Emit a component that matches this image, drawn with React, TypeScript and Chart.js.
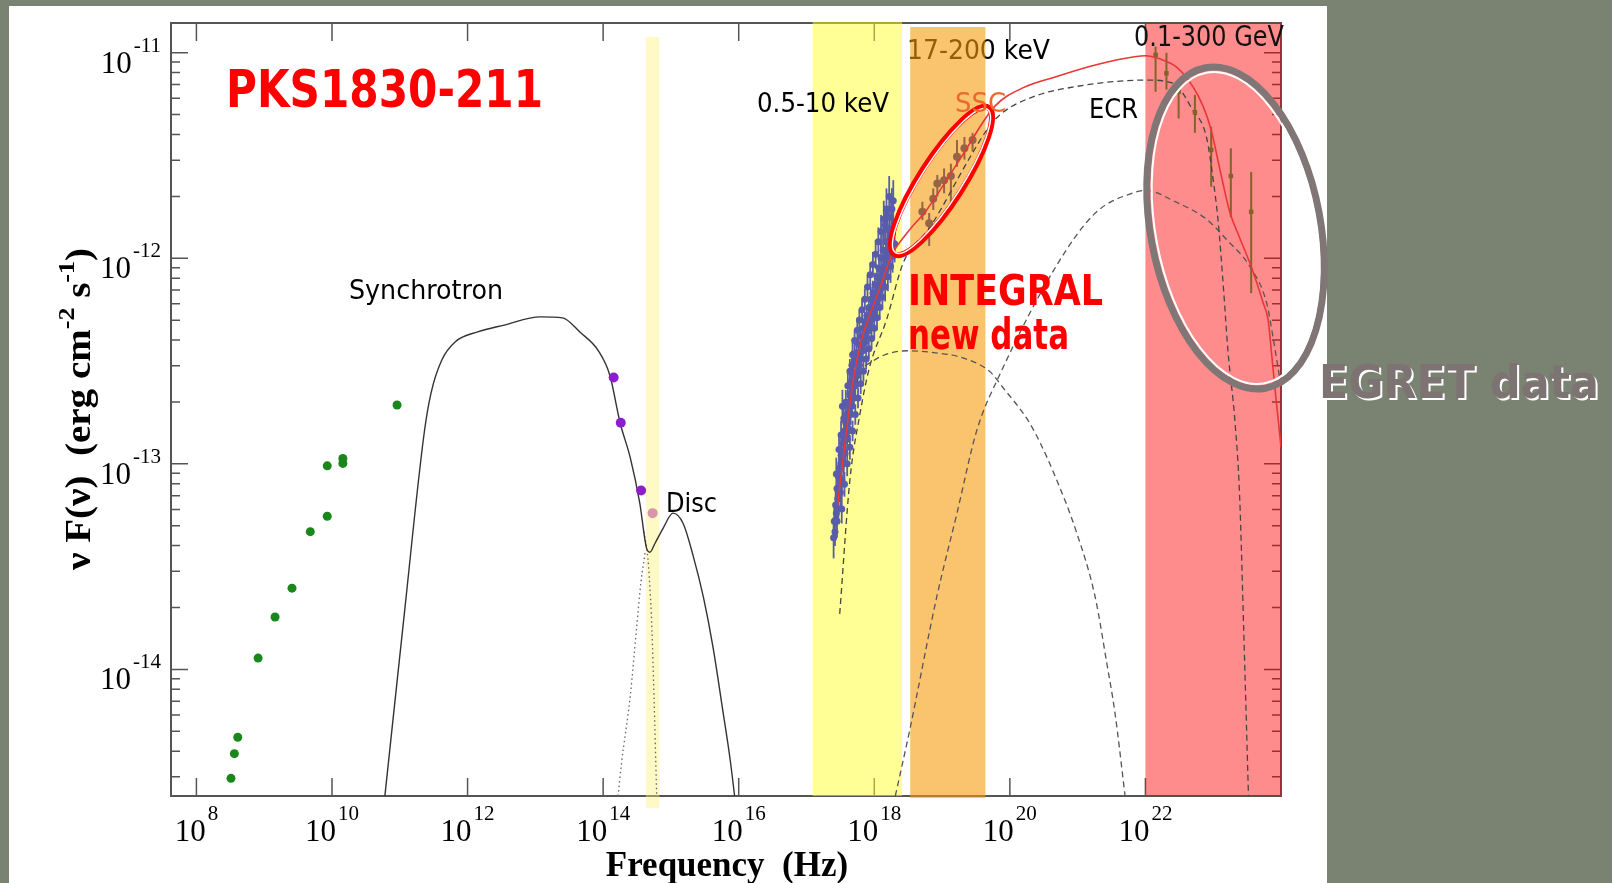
import React, { useEffect, useRef } from "react";
import { Chart, registerables } from "chart.js";

Chart.register(...registerables);

// ---------------- DATA (log10 frequency [Hz], log10 nuF(nu) [erg cm^-2 s^-1]) ----------------
const radioLogNu = [8.51, 8.56, 8.61, 8.91, 9.16, 9.41, 9.68, 9.93, 9.93, 10.16, 10.16, 10.96];
const radioLogF = [-14.53, -14.41, -14.33, -13.945, -13.745, -13.605, -13.33, -13.255, -13.01, -12.998, -12.974, -12.714];

const irLogNu = [14.155, 14.26, 14.56];
const irLogF = [-12.58, -12.8, -13.13];

const optLogNu = [14.73];
const optLogF = [-13.24];

const xrayLogNu = [
  17.4, 17.41, 17.42, 17.43, 17.44, 17.45, 17.46, 17.47, 17.48, 17.49,
  17.5, 17.51, 17.52, 17.53, 17.54, 17.55, 17.56, 17.57, 17.58, 17.59,
  17.6, 17.61, 17.62, 17.63, 17.64, 17.65, 17.66, 17.67, 17.68, 17.69, 17.7,
  17.72, 17.73, 17.74, 17.76, 17.77, 17.79, 17.8, 17.82, 17.83, 17.85,
  17.86, 17.88, 17.89, 17.91, 17.92, 17.94, 17.95, 17.97, 17.98,
  18.0, 18.01, 18.03, 18.04, 18.06, 18.07, 18.09, 18.1, 18.12, 18.13,
  18.15, 18.16, 18.17, 18.19, 18.2, 18.21, 18.23, 18.24, 18.26, 18.27, 18.28,
  17.45, 17.47, 17.5, 17.52, 17.55, 17.57, 17.6, 17.62, 17.65, 17.67,
  17.7, 17.72, 17.75, 17.78, 17.8, 17.83, 17.86, 17.88, 17.91, 17.94,
  17.97, 18.0, 18.03, 18.06, 18.09, 18.12, 18.15, 18.18, 18.21, 18.24,
  17.44, 17.48, 17.51, 17.55, 17.58, 17.61, 17.64, 17.68, 17.71, 17.75,
  17.78, 17.82, 17.86, 17.9, 17.94, 17.98, 18.02, 18.06, 18.1, 18.14, 18.18, 18.22,
  17.52, 17.56, 17.6, 17.64, 17.68, 17.72, 17.76, 17.8, 17.84, 17.88,
  17.92, 17.96, 18.0, 18.04, 18.08, 18.12, 18.16, 18.2, 18.24, 18.27, 18.3,
];
const xrayLogF = [
  -13.36, -13.28, -13.33, -13.2, -13.24, -13.12, -13.17, -13.06, -13.12, -13.02,
  -13.07, -12.96, -12.99, -12.72, -12.9, -12.94, -12.84, -12.88, -12.8, -12.85,
  -12.76, -12.8, -12.7, -12.75, -12.66, -12.71, -12.6, -12.52, -12.64, -12.56, -12.61,
  -12.5, -12.56, -12.46, -12.5, -12.42, -12.46, -12.38, -12.43, -12.34, -12.39,
  -12.31, -12.36, -12.28, -12.33, -12.24, -12.3, -12.2, -12.26, -12.17,
  -12.23, -12.13, -12.2, -12.09, -12.16, -12.05, -12.12, -12.0, -12.09, -11.96,
  -12.04, -11.84, -11.92, -12.01, -11.86, -11.95, -11.8, -11.92, -11.76, -11.88, -11.72,
  -13.28, -13.22, -13.14, -13.08, -13.0, -12.95, -12.88, -12.83, -12.76, -12.72,
  -12.68, -12.62, -12.57, -12.52, -12.49, -12.45, -12.41, -12.38, -12.35, -12.32,
  -12.29, -12.26, -12.22, -12.19, -12.15, -12.11, -12.07, -12.03, -11.99, -11.96,
  -13.05, -12.93, -12.86, -12.78, -12.7, -12.62, -12.55, -12.47, -12.4, -12.35,
  -12.3, -12.25, -12.2, -12.14, -12.08, -12.03, -11.98, -11.92, -11.87, -11.81, -11.76, -11.7,
  -13.22, -13.1, -13.0, -12.92, -12.84, -12.76, -12.68, -12.61, -12.55, -12.49,
  -12.44, -12.39, -12.34, -12.29, -12.24, -12.19, -12.14, -12.09, -12.04, -11.99, -11.93,
];
const xrayErr = [
  0.1, 0.08, 0.07, 0.09, 0.07, 0.08, 0.06, 0.07, 0.06, 0.06,
  0.05, 0.06, 0.05, 0.08, 0.06, 0.05, 0.06, 0.05, 0.05, 0.05,
  0.06, 0.05, 0.05, 0.05, 0.06, 0.05, 0.06, 0.07, 0.05, 0.05, 0.05,
  0.05, 0.05, 0.05, 0.05, 0.05, 0.05, 0.05, 0.05, 0.05, 0.05,
  0.05, 0.05, 0.05, 0.05, 0.05, 0.05, 0.06, 0.05, 0.06,
  0.05, 0.06, 0.05, 0.06, 0.06, 0.07, 0.06, 0.07, 0.06, 0.08,
  0.07, 0.09, 0.08, 0.07, 0.09, 0.08, 0.1, 0.08, 0.1, 0.09, 0.1,
  0.08, 0.07, 0.07, 0.06, 0.06, 0.06, 0.06, 0.05, 0.05, 0.05,
  0.05, 0.05, 0.05, 0.05, 0.05, 0.05, 0.05, 0.05, 0.05, 0.05,
  0.05, 0.05, 0.06, 0.06, 0.06, 0.07, 0.07, 0.07, 0.08, 0.08,
  0.08, 0.07, 0.07, 0.06, 0.06, 0.06, 0.06, 0.06, 0.05, 0.05,
  0.05, 0.05, 0.05, 0.06, 0.06, 0.06, 0.07, 0.07, 0.08, 0.09, 0.1, 0.1,
  0.07, 0.06, 0.06, 0.06, 0.05, 0.05, 0.05, 0.05, 0.05, 0.05,
  0.05, 0.05, 0.05, 0.06, 0.06, 0.06, 0.07, 0.07, 0.08, 0.08, 0.09,
];
const xrayNuErr = 0.035;

const integralLogNu = [18.71, 18.81, 18.87, 18.93, 19.03, 19.13, 19.22, 19.33, 19.45];
const integralLogF = [-11.774, -11.83, -11.71, -11.636, -11.62, -11.6, -11.506, -11.465, -11.425];
const integralLo = [-11.814, -11.94, -11.765, -11.7, -11.684, -11.733, -11.555, -11.52, -11.48];
const integralHi = [-11.725, -11.78, -11.66, -11.595, -11.563, -11.54, -11.425, -11.41, -11.39];

const egretLogNu = [22.15, 22.31, 22.49, 22.73, 22.97, 23.26, 23.56];
const egretLogF = [-11.011, -11.1, -11.19, -11.29, -11.473, -11.6, -11.774];
const egretLo = [-11.19, -11.18, -11.32, -11.39, -11.652, -11.8, -12.17];
const egretHi = [-10.97, -11.0, -11.157, -11.206, -11.36, -11.465, -11.58];

// model curves
const syncLogNu = [10.78, 11.07, 11.36, 11.46, 11.62, 11.82, 12.15, 12.54, 13.07, 13.4, 13.66, 13.93, 14.1, 14.25, 14.4, 14.54, 14.64, 14.69, 14.76, 14.89, 15.03, 15.18, 15.33, 15.48, 15.62, 15.77, 15.87, 15.94];
const syncLogF = [-14.616, -13.72, -12.85, -12.657, -12.495, -12.406, -12.358, -12.325, -12.285, -12.29, -12.36, -12.45, -12.57, -12.8, -12.97, -13.19, -13.41, -13.43, -13.39, -13.31, -13.24, -13.29, -13.45, -13.65, -13.89, -14.21, -14.43, -14.616];

const discDotLogNu = [14.22, 14.27, 14.4, 14.49, 14.56, 14.62];
const discDotLogF = [-14.616, -14.46, -14.13, -13.81, -13.57, -13.43];
const syncDotLogNu = [14.6, 14.66, 14.7, 14.72, 14.75, 14.79];
const syncDotLogF = [-13.33, -13.46, -13.66, -13.81, -14.13, -14.616];

const sscLogNu = [17.62, 17.79, 17.98, 18.25, 18.52, 18.9, 19.26, 19.7, 19.9, 20.27, 20.45, 20.68, 20.97, 21.26, 21.43, 21.55, 21.7];
const sscLogF = [-12.75, -12.56, -12.5, -12.46, -12.45, -12.46, -12.48, -12.55, -12.63, -12.79, -12.9, -13.07, -13.32, -13.65, -13.97, -14.21, -14.616];

const ecrLogNu = [17.49, 17.64, 17.79, 17.93, 18.18, 18.43, 18.82, 19.41, 19.66, 19.86, 20.38, 20.97, 21.55, 22.02, 22.41, 22.7, 22.9, 23.0, 23.07, 23.15, 23.22, 23.32, 23.39, 23.45, 23.52];
const ecrLogF = [-13.73, -13.08, -12.755, -12.53, -12.3, -12.02, -11.85, -11.51, -11.376, -11.3, -11.21, -11.165, -11.14, -11.133, -11.149, -11.28, -11.41, -11.62, -11.81, -12.14, -12.46, -12.79, -13.16, -13.81, -14.616];

const ecdLogNu = [18.31, 18.52, 18.92, 19.22, 19.51, 19.86, 20.68, 21.26, 21.84, 22.02, 22.41, 22.9, 23.2, 23.54, 23.79, 23.88, 23.96, 24.0];
const ecdLogF = [-14.616, -14.3, -13.65, -13.24, -12.84, -12.56, -12.04, -11.78, -11.68, -11.67, -11.72, -11.81, -11.91, -12.04, -12.22, -12.38, -12.54, -12.62];

const totalLogNu = [17.46, 17.49, 17.59, 17.69, 17.81, 17.94, 18.11, 18.25, 18.5, 18.77, 19.26, 19.78, 20.2, 20.68, 21.26, 21.84, 22.0, 22.21, 22.46, 22.7, 22.85, 22.97, 23.1, 23.24, 23.39, 23.56, 23.74, 23.81, 23.86, 23.91, 23.96, 24.0];
const totalLogF = [-13.2, -13.11, -12.84, -12.59, -12.4, -12.27, -12.12, -11.99, -11.87, -11.766, -11.52, -11.26, -11.17, -11.117, -11.06, -11.02, -11.015, -11.03, -11.07, -11.165, -11.26, -11.376, -11.57, -11.77, -11.9, -12.04, -12.22, -12.3, -12.46, -12.63, -12.79, -12.92];

// energy bands (log10 Hz)
const bandNames = ["0.5-10 keV", "17-200 keV", "0.1-300 GeV", "optical"];
const bandLoNu = [17.09, 18.53, 22.0, 14.63];
const bandHiNu = [18.41, 19.64, 24.0, 14.83];

// axes
const xRangeLog = [7.625, 24.0];
const yRangeLog = [-14.616, -10.8555];
const xTickExps = [8, 10, 12, 14, 16, 18, 20, 22];
const yTickExps = [-14, -13, -12, -11];

// ---------------- STYLE ----------------
const BG = "rgb(122,130,114)";
const SERIF = "'Liberation Serif','Times New Roman',Times,serif";
const COMIC = "'Comic Sans MS','DejaVu Sans',sans-serif";
const PANEL = { x: 9, y: 6, w: 1318, h: 900 };
const bandStyles = [
  { color: "rgba(255,255,45,0.5)", top: -1, bottom: 0, layer: 0 },
  { color: "rgba(247,155,13,0.6)", top: 4, bottom: 2, layer: 1 },
  { color: "rgba(255,0,0,0.45)", top: 0, bottom: 0, layer: 1 },
  { color: "rgba(255,240,110,0.4)", top: 14, bottom: 12, layer: 0 },
];

const underNotes = [
  { t: "17-200 keV", x: 907, y: 59, w: 143, font: `27px ${COMIC}`, c: "#000" },
];
const overNotes = [
  { t: "0.1-300 GeV", x: 1134, y: 46, w: 150, font: `28px ${COMIC}`, c: "#111" },
  { t: "PKS1830-211", x: 226, y: 107, w: 317, font: `bold 52px ${COMIC}`, c: "#ff0000" },
  { t: "Synchrotron", x: 349, y: 299, w: 154, font: `26px ${COMIC}`, c: "#000" },
  { t: "Disc", x: 666, y: 512, w: 51, font: `26px ${COMIC}`, c: "#000" },
  { t: "0.5-10 keV", x: 757, y: 112, w: 132, font: `27px ${COMIC}`, c: "#000" },
  { t: "SSC", x: 955, y: 112, w: 51, font: `27px ${COMIC}`, c: "rgb(235,105,45)" },
  { t: "ECR", x: 1089, y: 118, w: 49, font: `27px ${COMIC}`, c: "#000" },
  { t: "INTEGRAL", x: 908, y: 305, w: 195, font: `bold 42px ${COMIC}`, c: "#ff0000" },
  { t: "new data", x: 908, y: 349, w: 161, font: `bold 42px ${COMIC}`, c: "#ff0000" },
];

const p10 = (v: number) => Math.pow(10, v);
const toPts = (xs: number[], ys: number[]) => xs.map((v, i) => ({ x: p10(v), y: p10(ys[i]) }));

function fitText(ctx: CanvasRenderingContext2D, s: string, x: number, y: number, font: string, color: string, width: number) {
  ctx.save();
  ctx.font = font;
  ctx.fillStyle = color;
  ctx.textAlign = "left";
  ctx.textBaseline = "alphabetic";
  const w = ctx.measureText(s).width;
  ctx.translate(x, y);
  ctx.scale(width / w, 1);
  ctx.fillText(s, 0, 0);
  ctx.restore();
}

function drawPow(ctx: CanvasRenderingContext2D, exp: string, x: number, y: number, align: "center" | "right") {
  const bf = `31px ${SERIF}`;
  const ef = `21px ${SERIF}`;
  ctx.font = bf;
  const bw = ctx.measureText("10").width;
  ctx.font = ef;
  const ew = ctx.measureText(exp).width;
  const gap = 2;
  const total = bw + gap + ew;
  const x0 = align === "center" ? x - total / 2 : x - total;
  ctx.textAlign = "left";
  ctx.textBaseline = "alphabetic";
  ctx.fillStyle = "#000";
  ctx.font = bf;
  ctx.fillText("10", x0, y);
  ctx.font = ef;
  ctx.fillText(exp, x0 + bw + gap, y - 21);
}

function vbars(ctx: CanvasRenderingContext2D, chart: any, xs: number[], lo: number[], hi: number[], color: string, width: number) {
  const { x, y } = chart.scales;
  ctx.save();
  ctx.strokeStyle = color;
  ctx.lineWidth = width;
  xs.forEach((v, i) => {
    const px = x.getPixelForValue(p10(v));
    ctx.beginPath();
    ctx.moveTo(px, y.getPixelForValue(p10(lo[i])));
    ctx.lineTo(px, y.getPixelForValue(p10(hi[i])));
    ctx.stroke();
  });
  ctx.restore();
}

function hbars(ctx: CanvasRenderingContext2D, chart: any, xs: number[], ys: number[], dx: number, color: string, width: number) {
  const { x, y } = chart.scales;
  ctx.save();
  ctx.strokeStyle = color;
  ctx.lineWidth = width;
  xs.forEach((v, i) => {
    const py = y.getPixelForValue(p10(ys[i]));
    ctx.beginPath();
    ctx.moveTo(x.getPixelForValue(p10(v - dx)), py);
    ctx.lineTo(x.getPixelForValue(p10(v + dx)), py);
    ctx.stroke();
  });
  ctx.restore();
}

function drawBand(ctx: CanvasRenderingContext2D, chart: any, i: number) {
  const { chartArea: a, scales } = chart;
  const st = bandStyles[i];
  const x1 = scales.x.getPixelForValue(p10(bandLoNu[i]));
  const x2 = scales.x.getPixelForValue(p10(bandHiNu[i]));
  ctx.fillStyle = st.color;
  ctx.fillRect(x1, a.top + st.top, x2 - x1, a.bottom + st.bottom - (a.top + st.top));
}

const decor = {
  id: "decor",
  beforeDraw(chart: any) {
    const ctx = chart.ctx as CanvasRenderingContext2D;
    ctx.save();
    ctx.fillStyle = BG;
    ctx.fillRect(0, 0, chart.width, chart.height);
    ctx.fillStyle = "#ffffff";
    ctx.fillRect(PANEL.x, PANEL.y, PANEL.w, PANEL.h);
    ctx.restore();
  },
  beforeDatasetsDraw(chart: any) {
    const ctx = chart.ctx as CanvasRenderingContext2D;
    const a = chart.chartArea;
    const { x, y } = chart.scales;
    ctx.save();
    // frame
    ctx.strokeStyle = "#555";
    ctx.lineWidth = 2;
    ctx.strokeRect(a.left, a.top, a.right - a.left, a.bottom - a.top);
    ctx.lineWidth = 1.5;
    ctx.beginPath();
    xTickExps.forEach((e) => {
      const px = x.getPixelForValue(p10(e));
      ctx.moveTo(px, a.bottom);
      ctx.lineTo(px, a.bottom - 18);
      ctx.moveTo(px, a.top);
      ctx.lineTo(px, a.top + 18);
    });
    for (let e = -15; e <= -11; e++) {
      for (let k = 1; k <= 9; k++) {
        const v = k * p10(e);
        const lv = Math.log10(v);
        if (lv < yRangeLog[0] || lv > yRangeLog[1]) continue;
        const py = y.getPixelForValue(v);
        const len = k === 1 ? 17 : 9;
        ctx.moveTo(a.left, py);
        ctx.lineTo(a.left + len, py);
        ctx.moveTo(a.right, py);
        ctx.lineTo(a.right - len, py);
      }
    }
    ctx.stroke();
    // bands
    bandNames.forEach((_, i) => {
      if (bandStyles[i].layer === 0) drawBand(ctx, chart, i);
    });
    underNotes.forEach((n) => fitText(ctx, n.t, n.x, n.y, n.font, n.c, n.w));
    bandNames.forEach((_, i) => {
      if (bandStyles[i].layer === 1) drawBand(ctx, chart, i);
    });
    // error bars
    const xc = "rgb(88,92,170)";
    vbars(ctx, chart, xrayLogNu, xrayLogF.map((f, i) => f - xrayErr[i]), xrayLogF.map((f, i) => f + xrayErr[i]), xc, 1.8);
    hbars(ctx, chart, xrayLogNu, xrayLogF, xrayNuErr, xc, 1.8);
    vbars(ctx, chart, integralLogNu, integralLo, integralHi, "rgb(150,100,70)", 2);
    vbars(ctx, chart, egretLogNu, egretLo, egretHi, "rgb(130,100,40)", 2);
    ctx.restore();
  },
  afterDatasetsDraw(chart: any) {
    const ctx = chart.ctx as CanvasRenderingContext2D;
    const a = chart.chartArea;
    const { x, y } = chart.scales;
    ctx.save();
    // INTEGRAL ellipse
    ctx.strokeStyle = "#ff0000";
    ctx.lineWidth = 6;
    ctx.beginPath();
    ctx.ellipse(941.5, 181, 87, 22, -1.0, 0, Math.PI * 2);
    ctx.stroke();
    ctx.strokeStyle = "#ffffff";
    ctx.lineWidth = 1.5;
    ctx.beginPath();
    ctx.ellipse(941.5, 181, 85, 20, -1.0, 0, Math.PI * 2);
    ctx.stroke();
    // EGRET ellipse
    ctx.strokeStyle = "rgb(128,118,118)";
    ctx.lineWidth = 7;
    ctx.beginPath();
    ctx.ellipse(1235.5, 228, 85, 163, -0.185, 0, Math.PI * 2);
    ctx.stroke();
    ctx.strokeStyle = "#ffffff";
    ctx.lineWidth = 2;
    ctx.beginPath();
    ctx.ellipse(1235.5, 228, 80, 158, -0.185, 0, Math.PI * 2);
    ctx.stroke();

    overNotes.forEach((n) => fitText(ctx, n.t, n.x, n.y, n.font, n.c, n.w));
    fitText(ctx, "EGRET data", 1321, 400, `bold 46px ${COMIC}`, "#ffffff", 280);
    fitText(ctx, "EGRET data", 1319, 398, `bold 46px ${COMIC}`, "rgb(125,115,115)", 280);

    // tick labels
    xTickExps.forEach((e) => drawPow(ctx, String(e), x.getPixelForValue(p10(e)), a.bottom + 45, "center"));
    yTickExps.forEach((e) => drawPow(ctx, String(e), a.left - 10, y.getPixelForValue(p10(e)) + 20, "right"));

    // x title
    ctx.fillStyle = "#000";
    ctx.font = `bold 35px ${SERIF}`;
    ctx.textAlign = "center";
    ctx.fillText("Frequency  (Hz)", 727, 876);

    // y title
    const segs: [string, boolean][] = [["\u03BD F(\u03BD)  (erg cm", false], ["-2", true], [" s", false], ["-1", true], [")", false]];
    const big = `bold 36px ${SERIF}`;
    const small = `bold 24px ${SERIF}`;
    let total = 0;
    const ws = segs.map(([t, sup]) => {
      ctx.font = sup ? small : big;
      const w = ctx.measureText(t).width;
      total += w;
      return w;
    });
    ctx.translate(90, 409);
    ctx.rotate(-Math.PI / 2);
    ctx.scale(322 / total, 1);
    ctx.textAlign = "left";
    let xx = -total / 2;
    segs.forEach(([t, sup], i) => {
      ctx.font = sup ? small : big;
      ctx.fillText(t, xx, sup ? -16 : 0);
      xx += ws[i];
    });
    ctx.restore();
  },
};

function lineDs(data: any[], color: string, width: number, dash: number[]) {
  return {
    data,
    showLine: true,
    pointRadius: 0,
    borderColor: color,
    borderWidth: width,
    borderDash: dash,
    fill: false,
    cubicInterpolationMode: "monotone",
  };
}
function ptDs(data: any[], color: string, r: number, style = "circle") {
  return {
    data,
    showLine: false,
    pointRadius: r,
    pointStyle: style,
    pointBackgroundColor: color,
    pointBorderColor: color,
    pointBorderWidth: 0,
  };
}

export default function App() {
  const ref = useRef<HTMLCanvasElement>(null);
  useEffect(() => {
    const datasets: any[] = [
      lineDs(toPts(totalLogNu, totalLogF), "rgb(232,55,55)", 1.6, []),
      ptDs(toPts(egretLogNu, egretLogF), "rgb(130,100,40)", 3.2, "rect"),
      ptDs(toPts(integralLogNu, integralLogF), "rgb(150,100,70)", 4),
      ptDs(toPts(xrayLogNu, xrayLogF), "rgb(88,92,170)", 3.5),
      ptDs(toPts(irLogNu, irLogF), "rgb(140,30,205)", 5),
      ptDs(toPts(optLogNu, optLogF), "rgb(215,150,170)", 5),
      ptDs(toPts(radioLogNu, radioLogF), "rgb(25,135,25)", 4.5),
      lineDs(toPts(sscLogNu, sscLogF), "#555", 1.3, [6, 4]),
      lineDs(toPts(ecrLogNu, ecrLogF), "#444", 1.3, [6, 4]),
      lineDs(toPts(ecdLogNu, ecdLogF), "#555", 1.3, [6, 4]),
      lineDs(toPts(syncLogNu, syncLogF), "#333", 1.4, []),
      lineDs(toPts(discDotLogNu, discDotLogF), "#666", 1.3, [1.5, 3]),
      lineDs(toPts(syncDotLogNu, syncDotLogF), "#666", 1.3, [1.5, 3]),
    ];
    const chart = new Chart(ref.current as HTMLCanvasElement, {
      type: "scatter",
      data: { datasets },
      options: {
        animation: false,
        responsive: false,
        devicePixelRatio: 1,
        events: [],
        layout: { padding: { left: 171, right: 331, top: 23, bottom: 87 } },
        plugins: { legend: { display: false }, tooltip: { enabled: false }, title: { display: false } },
        scales: {
          x: { type: "logarithmic", display: false, bounds: "data", min: p10(xRangeLog[0]), max: p10(xRangeLog[1]) },
          y: { type: "logarithmic", display: false, bounds: "data", min: p10(yRangeLog[0]), max: p10(yRangeLog[1]) },
        },
      } as any,
      plugins: [decor as any],
    });
    return () => chart.destroy();
  }, []);
  return (
    <div style={{ position: "fixed", left: 0, top: 0, width: 1612, height: 883, background: BG, overflow: "hidden" }}>
      <canvas ref={ref} width={1612} height={883} style={{ display: "block", width: 1612, height: 883 }} />
    </div>
  );
}
